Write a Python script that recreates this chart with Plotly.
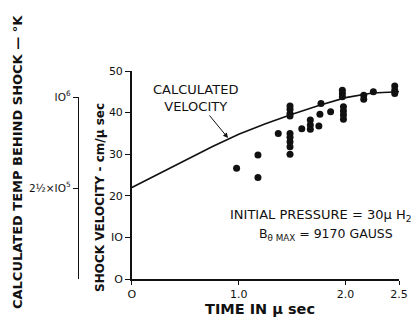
import plotly.graph_objects as go

# Measured shock velocity data (time in microseconds, velocity in cm/μsec)
meas_t = [0.98, 1.18, 1.18, 1.37,
          1.48, 1.48, 1.48, 1.48, 1.48, 1.48, 1.48, 1.48, 1.48,
          1.59, 1.67, 1.67, 1.67, 1.75, 1.76, 1.77, 1.86,
          1.97, 1.97, 1.97, 1.98, 1.98, 1.98, 1.98,
          2.17, 2.17, 2.26, 2.46, 2.46, 2.46]
meas_v = [26.6, 29.8, 24.4, 35.0,
          41.6, 40.8, 39.8, 39.2, 35.0, 34.1, 33.0, 31.8, 30.0,
          36.1, 38.2, 37.0, 36.0, 36.8, 39.6, 42.2, 40.2,
          45.4, 44.6, 43.8, 41.4, 40.4, 39.4, 38.4,
          44.2, 43.2, 45.0, 46.4, 45.4, 44.6]

# Calculated velocity curve
calc_t = [0, 0.25, 0.5, 0.75, 1.0, 1.25, 1.5, 1.75, 2.0, 2.25, 2.5]
calc_v = [22.0, 25.3, 28.6, 31.8, 34.8, 37.3, 39.6, 41.7, 43.6, 44.7, 45.0]

x_ticks = [0, 1.0, 2.0, 2.5]
x_ticktext = ["O", "1.0", "2.0", "2.5"]
y_ticks = [0, 10, 20, 30, 40, 50]
y_ticktext = ["O", "IO", "20", "30", "40", "50"]

# Temperature scale (T proportional to v^2); 10^6 K corresponds to v = 43.75
temp_ref_T = 1e6
temp_ref_v = 43.75
temp_ticks = [2.5e5, 1e6]
temp_ticktext = ["2½×IO<sup>5</sup>", "IO<sup>6</sup>"]
temp_tickpos = [temp_ref_v * (t / temp_ref_T) ** 0.5 for t in temp_ticks]

FONT = "DejaVu Sans"
INK = "#111111"

W, H = 411, 312          # page body has an 8px margin
ml, mr, mt, mb = 40, 19.5, 63, 41
paper_w = W - ml - mr
paper_h = H - mt - mb
x0 = (124 - ml) / paper_w
t_pos = (70 - ml) / paper_w


def px(x):
    return (x - ml) / paper_w


def py(y):
    return (H - mb - y) / paper_h


fig = go.Figure()
fig.add_trace(go.Scatter(x=calc_t, y=calc_v, mode="lines",
                         line=dict(color=INK, width=1.6), showlegend=False,
                         hoverinfo="skip"))
fig.add_trace(go.Scatter(x=meas_t, y=meas_v, mode="markers",
                         marker=dict(color=INK, size=7), showlegend=False))
# invisible trace to register the temperature axis
fig.add_trace(go.Scatter(x=[None], y=[None], yaxis="y2", xaxis="x",
                         showlegend=False, hoverinfo="skip"))

fig.update_layout(
    width=W, height=H,
    margin=dict(l=ml, r=mr, t=mt, b=mb),
    paper_bgcolor="white", plot_bgcolor="rgba(0,0,0,0)",
    font=dict(family=FONT, color=INK, size=11),
    xaxis=dict(domain=[x0, 1], range=[0, 2.5], tickvals=x_ticks,
               ticktext=x_ticktext, showgrid=False, zeroline=False,
               showline=True, linecolor=INK, linewidth=1.6,
               ticks="outside", ticklen=4, tickcolor=INK, tickwidth=1.4,
               tickfont=dict(size=11), ticklabelstandoff=0),
    yaxis=dict(range=[0, 50], tickvals=y_ticks, ticktext=y_ticktext,
               showgrid=False, zeroline=False, showline=True,
               linecolor=INK, linewidth=1.6, ticks="outside", ticklen=5,
               tickcolor=INK, tickwidth=1.4, tickfont=dict(size=11)),
    yaxis2=dict(domain=[0, temp_ref_v / 50], range=[0, temp_ref_v],
                anchor="free", position=t_pos, side="left",
                tickvals=temp_tickpos, ticktext=temp_ticktext,
                showgrid=False, zeroline=False, showline=True,
                linecolor=INK, linewidth=1.4, ticks="outside", ticklen=5,
                tickcolor=INK, tickwidth=1.2, tickfont=dict(size=10.5)),
    annotations=[
        dict(text="<b>CALCULATED TEMP BEHIND SHOCK — °K</b>", xref="paper",
             yref="paper", x=px(9), y=py(154),
             textangle=-90, showarrow=False, font=dict(size=13),
             xanchor="center", yanchor="middle"),
        dict(text="<b>SHOCK VELOCITY - cm/μ sec</b>", xref="paper",
             yref="paper", x=px(92), y=py(189),
             textangle=-90, showarrow=False, font=dict(size=12),
             xanchor="center", yanchor="middle"),
        dict(text="<b>TIME IN μ sec</b>", xref="paper", yref="paper",
             x=px(252), y=py(301), xanchor="center", yanchor="middle",
             showarrow=False, font=dict(size=14.5)),
        dict(text="CALCULATED<br>VELOCITY", x=0.90, y=33.9, xref="x",
             yref="y", showarrow=True, arrowhead=2, arrowsize=1,
             arrowwidth=1, arrowcolor=INK, ax=-33, ay=-40,
             font=dict(size=13), align="center"),
        dict(text="INITIAL PRESSURE = 30μ H<sub>2</sub>", xref="paper",
             yref="paper", x=px(220), y=py(207),
             xanchor="left", yanchor="middle", showarrow=False,
             font=dict(size=13)),
        dict(text="B<sub>θ MAX</sub> = 9170 GAUSS", xref="paper",
             yref="paper", x=px(249), y=py(226),
             xanchor="left", yanchor="middle", showarrow=False,
             font=dict(size=12.5)),
    ],
)

fig.write_html("out.html")
